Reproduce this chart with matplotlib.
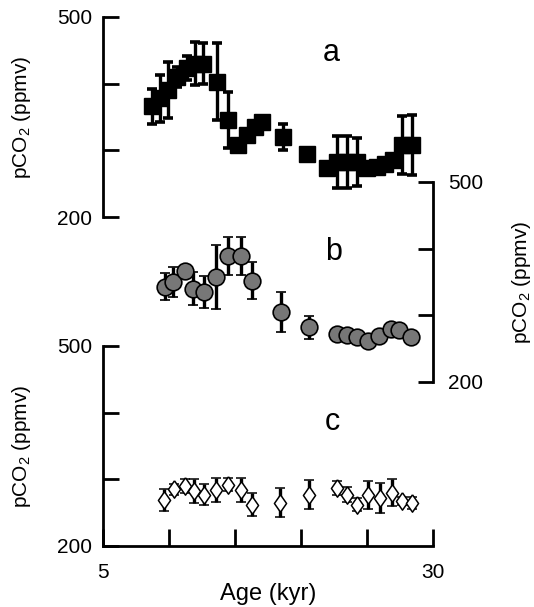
import matplotlib
matplotlib.use("Agg")
import matplotlib.pyplot as plt

plt.rcParams['font.family'] = ['Liberation Sans', 'DejaVu Sans']
plt.rcParams['mathtext.default'] = 'regular'

# panel a: squares
age_a = [8.69, 9.32, 9.95, 10.58, 11.33, 11.97, 12.6, 13.61, 14.5, 15.25, 15.89, 16.52, 17.02,
         18.66, 20.43, 21.95, 22.7, 23.46, 24.22, 24.98, 25.73, 26.36, 26.99, 27.63, 28.39]
co2_a = [366, 378, 390, 410, 423, 430, 430, 403, 345, 308, 323, 335, 343,
         320, 295, 273, 283, 283, 283, 273, 275, 280, 285, 308, 308]
err_a = [26, 35, 42, 15, 18, 32, 31, 58, 42, 0, 0, 0, 0,
         20, 0, 8, 39, 39, 36, 0, 0, 0, 0, 44, 45]

# panel b: circles
age_b = [9.70, 10.33, 11.21, 11.84, 12.65, 13.56, 14.5, 15.43, 16.27, 18.46, 20.63,
         22.70, 23.46, 24.27, 25.10, 25.93, 26.79, 27.45, 28.31]
co2_b = [343, 350, 367, 340, 335, 358, 389, 389, 352, 305, 282,
         272, 270, 267, 262, 269, 280, 278, 267]
err_b = [20, 22, 0, 25, 24, 48, 28, 28, 28, 30, 17,
         0, 0, 0, 0, 0, 0, 0, 4]

# panel c: diamonds
age_c = [9.62, 10.38, 11.21, 11.89, 12.65, 13.56, 14.5, 15.43, 16.27, 18.41, 20.63,
         22.75, 23.46, 24.27, 25.10, 25.98, 26.87, 27.63, 28.39]
co2_c = [269, 285, 290, 282, 277, 284, 292, 284, 262, 265, 277,
         287, 277, 262, 277, 272, 280, 267, 264]
err_c = [16, 8, 10, 18, 16, 18, 10, 18, 17, 22, 22,
         11, 11, 10, 21, 23, 20, 6, 9]

lw = 2.0
fs = 15
ylab = 'pCO$_2$ (ppmv)'
tall_diamond = [(0, 1), (0.7, 0), (0, -1), (-0.7, 0), (0, 1)]

fig = plt.figure(figsize=(5.34, 6.07), dpi=100)
x0, w = 0.193, 0.618
ax_a = fig.add_axes([x0, 0.6425, w, 0.3295])
ax_b = fig.add_axes([x0, 0.3707, w, 0.3295])
ax_c = fig.add_axes([x0, 0.1005, w, 0.3295])

for ax in (ax_a, ax_b, ax_c):
    ax.set_facecolor('none')
    ax.set_xlim(5, 30)
    ax.set_ylim(200, 500)
    ax.set_yticks([200, 300, 400, 500])
    for s in ax.spines.values():
        s.set_visible(False)
        s.set_linewidth(lw)

ebkw = dict(ecolor='black', elinewidth=2.4, capsize=3.3, capthick=2.6, linestyle='none')

# a
ax_a.errorbar(age_a, co2_a, yerr=err_a, marker='s', markersize=11.5, mfc='black', mec='black', **ebkw)
ax_a.spines['left'].set_visible(True)
ax_a.set_yticklabels(['200', '', '', '500'])
ax_a.tick_params(axis='y', direction='in', length=11.5, width=lw, labelsize=fs, pad=8)
ax_a.set_xticks([])
ax_a.set_ylabel(ylab, fontsize=fs)
ax_a.yaxis.set_label_coords(-0.212, 0.5)
ax_a.text(0.691, 0.82, 'a', transform=ax_a.transAxes, fontsize=22, ha='center', va='center')

# b
ax_b.errorbar(age_b, co2_b, yerr=err_b, marker='o', markersize=12, mfc='#777777', mec='black',
              mew=1.2, **ebkw)
ax_b.spines['right'].set_visible(True)
ax_b.yaxis.tick_right()
ax_b.yaxis.set_label_position('right')
ax_b.set_yticklabels(['200', '', '', '500'])
ax_b.tick_params(axis='y', direction='in', length=11, width=lw, labelsize=fs, pad=11)
ax_b.set_xticks([])
ax_b.set_ylabel(ylab, fontsize=fs)
ax_b.yaxis.set_label_coords(1.232, 0.5)
ax_b.text(0.697, 0.65, 'b', transform=ax_b.transAxes, fontsize=22, ha='center', va='center')

# c
ax_c.errorbar(age_c, co2_c, yerr=err_c, marker=tall_diamond, markersize=12.5, mfc='white',
              mec='black', mew=1.1, **ebkw)
ax_c.spines['left'].set_visible(True)
ax_c.spines['bottom'].set_visible(True)
ax_c.set_yticklabels(['200', '', '', '500'])
ax_c.tick_params(axis='y', direction='in', length=11.5, width=lw, labelsize=fs, pad=8)
ax_c.set_xticks([5, 10, 15, 20, 25, 30])
ax_c.set_xticklabels(['5', '', '', '', '', '30'])
ax_c.tick_params(axis='x', direction='in', length=12, width=lw, labelsize=fs, pad=12)
ax_c.set_xlabel('Age (kyr)', fontsize=17, labelpad=1)
ax_c.set_ylabel(ylab, fontsize=fs)
ax_c.yaxis.set_label_coords(-0.212, 0.5)
ax_c.text(0.694, 0.62, 'c', transform=ax_c.transAxes, fontsize=22, ha='center', va='center')

fig.savefig('out.png', dpi=100)
